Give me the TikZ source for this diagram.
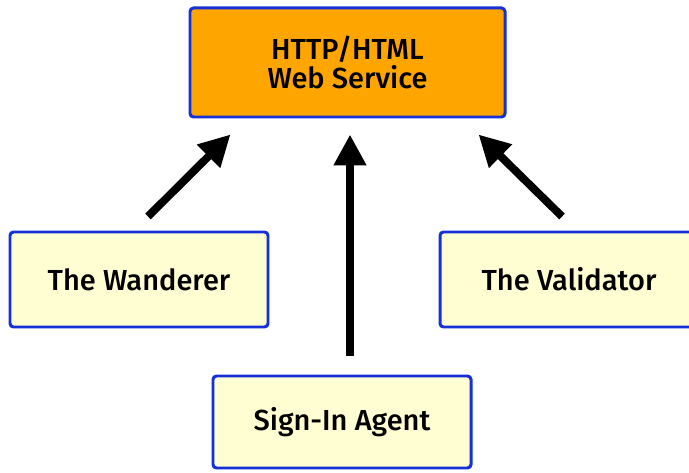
\documentclass[tikz,border=0pt]{standalone}
\usepackage{fontspec}
\setmainfont{Fira Sans}[UprightFont=* Medium]
\usepackage{tikz}
\usetikzlibrary{arrows.meta}

\definecolor{boxblue}{HTML}{1530D8}
\definecolor{svcorange}{HTML}{FFA500}
\definecolor{agentyellow}{HTML}{FFFDD2}

\tikzset{
  agent/.style={draw=boxblue, line width=1.7pt, rounded corners=2pt, fill=agentyellow,
    minimum width=5.16cm, minimum height=1.9cm, align=center, font=\fontsize{16.5}{16}\selectfont},
  service/.style={agent, fill=svcorange, minimum width=6.3cm, minimum height=2.18cm},
  arr/.style={line width=4.5pt, -{Triangle[length=0.62cm, width=0.62cm]}}
}

\begin{document}
\begin{tikzpicture}
      \useasboundingbox (0,0) rectangle (13.78,9.44);
      \node[service] (web) at (6.95,8.19) {HTTP/HTML\\Web Service};
      \node[agent] (wanderer) at (2.78,3.85) {The Wanderer};
      \node[agent] (validator) at (11.38,3.85) {The Validator};
      \node[agent, minimum height=1.84cm] (signin) at (6.84,1.0) {Sign-In Agent};
      \draw[arr] ([shift={(0.18,0.28)}]wanderer.north) -- ([shift={(0.84,-0.32)}]web.south west);
      \draw[arr] ([shift={(0.16,0.38)}]signin.north) -- ([shift={(0.05,-0.32)}]web.south);
      \draw[arr] ([shift={(-0.14,0.28)}]validator.north) -- ([shift={(-0.56,-0.32)}]web.south east);
\end{tikzpicture}
\end{document}
